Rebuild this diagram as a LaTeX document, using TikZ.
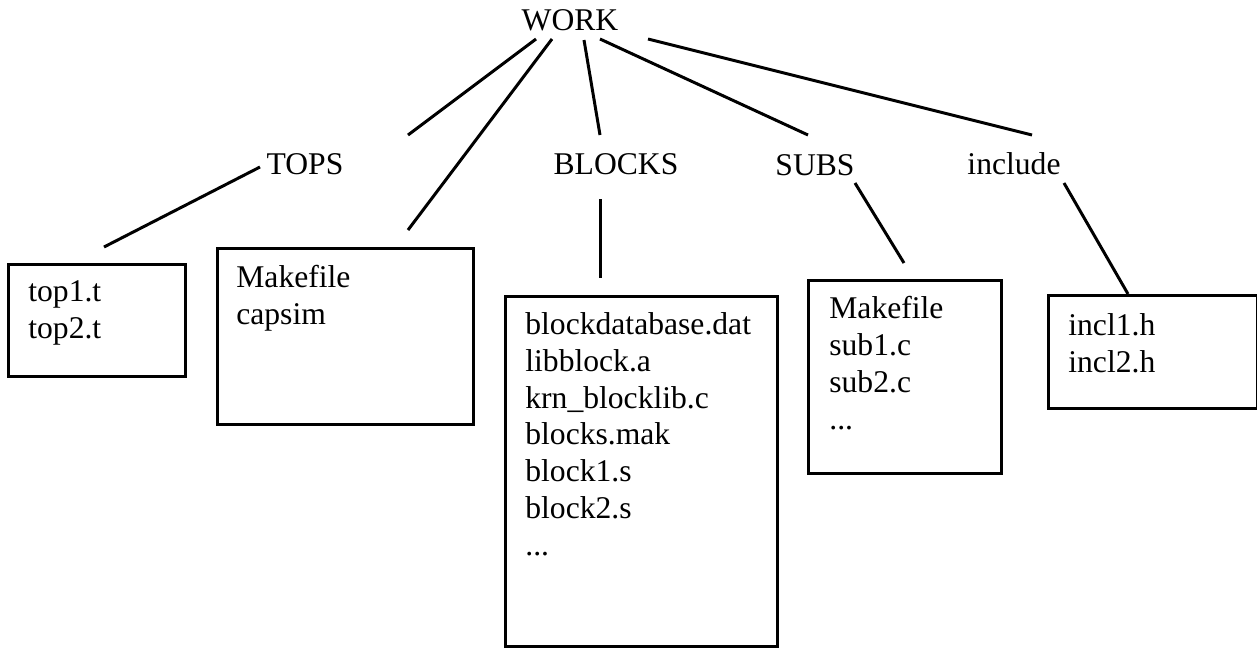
\documentclass[tikz,border=0pt]{standalone}
\usepackage{fontspec}
\setmainfont{Liberation Serif}
\usetikzlibrary{positioning}

\begin{document}
\begin{tikzpicture}[
    x=0.02cm, y=-0.02cm,
    every node/.style={font=\fontsize{18}{21}\selectfont},
    dirname/.style={anchor=base, inner sep=0pt},
    dirbox/.style={rectangle, draw, line width=1.7pt, anchor=north west, inner sep=0pt},
    files/.style={align=left, inner sep=0pt},
    tie/.style={line width=1.7pt}
]
\useasboundingbox (0,0) rectangle (1257,647);

% directory names
\node[dirname] (work) at (570,30) {WORK};
\node[dirname] (tops) at (305,174) {TOPS};
\node[dirname] (blocks) at (616,174) {BLOCKS};
\node[dirname] (subs) at (815,175) {SUBS};
\node[dirname] (incl) at (1014,174) {include};

% contents of the directories
\node[dirbox, minimum width=3.54cm, minimum height=2.24cm] (topsbox) at (7,263) {};
\node[files, below right=0.35cm and 0.42cm of topsbox.north west] (topsfiles) {top1.t\\top2.t};

\node[dirbox, minimum width=5.12cm, minimum height=3.52cm] (workbox) at (216,247) {};
\node[files, below right=0.35cm and 0.40cm of workbox.north west] (workfiles) {Makefile\\capsim};

\node[dirbox, minimum width=5.44cm, minimum height=7.0cm] (blocksbox) at (504,295) {};
\node[files, below right=0.34cm and 0.42cm of blocksbox.north west] (blocksfiles)
    {blockdatabase.dat\\libblock.a\\krn\_blocklib.c\\blocks.mak\\block1.s\\block2.s\\...};

\node[dirbox, minimum width=3.86cm, minimum height=3.86cm] (subsbox) at (807,279) {};
\node[files, below right=0.34cm and 0.44cm of subsbox.north west] (subsfiles) {Makefile\\sub1.c\\sub2.c\\...};

\node[dirbox, minimum width=4.18cm, minimum height=2.26cm] (inclbox) at (1047,294) {};
\node[files, below right=0.38cm and 0.42cm of inclbox.north west] (inclfiles) {incl1.h\\incl2.h};

% line ends
\coordinate (work-a) at (536,39);  \coordinate (tops-in) at (408,135);
\coordinate (work-b) at (552,39);  \coordinate (workbox-in) at (408,230);
\coordinate (work-c) at (584,40);  \coordinate (blocks-in) at (600,135);
\coordinate (work-d) at (600,39);  \coordinate (subs-in) at (808,135);
\coordinate (work-e) at (648,39);  \coordinate (incl-in) at (1032,135);
\coordinate (tops-out) at (260,167);   \coordinate (topsbox-in) at (104,247);
\coordinate (blocks-out) at (600,199); \coordinate (blocksbox-in) at (600,278);
\coordinate (subs-out) at (855,183);   \coordinate (subsbox-in) at (904,263);
\coordinate (incl-out) at (1064,183);

\draw[tie] (work-a) -- (tops-in);
\draw[tie] (work-b) -- (workbox-in);
\draw[tie] (work-c) -- (blocks-in);
\draw[tie] (work-d) -- (subs-in);
\draw[tie] (work-e) -- (incl-in);
\draw[tie] (tops-out) -- (topsbox-in);
\draw[tie] (blocks-out) -- (blocksbox-in);
\draw[tie] (subs-out) -- (subsbox-in);
\draw[tie] (incl-out) -- (inclbox.north west -| 1128,0);
\end{tikzpicture}
\end{document}
